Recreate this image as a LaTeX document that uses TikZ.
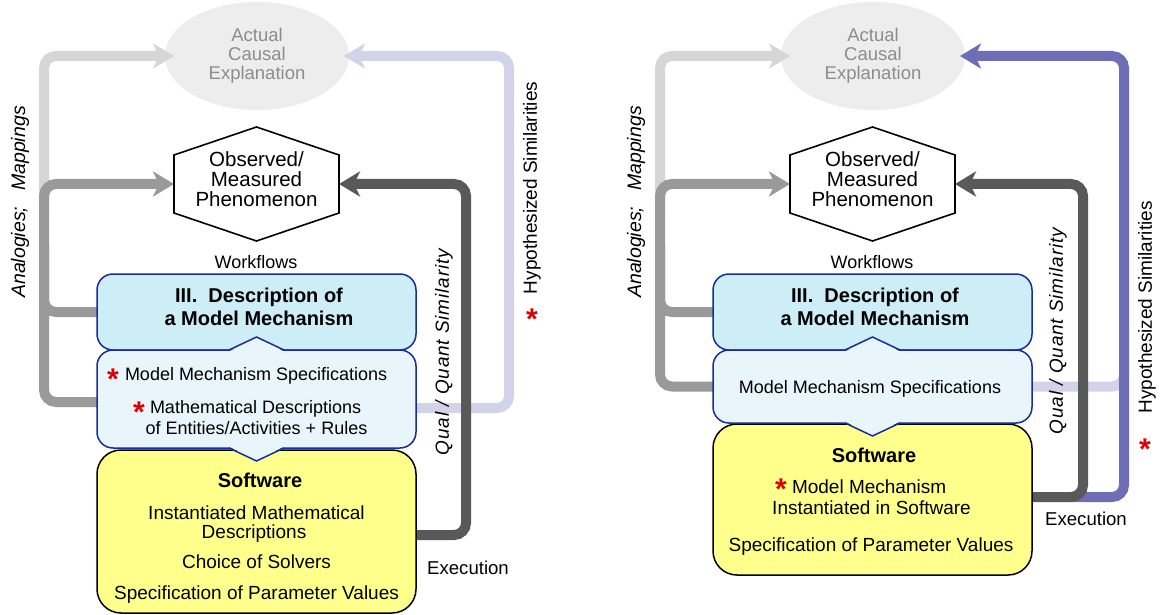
\documentclass[tikz,border=0pt]{standalone}
\usepackage{fontspec}
\setmainfont{Liberation Sans}
\usetikzlibrary{arrows.meta,calc,shapes.geometric}
\pgfdeclarelayer{back}
\pgfdeclarelayer{conns}
\pgfsetlayers{back,conns,main}
\definecolor{lgrey}{HTML}{D6D6D6}
\definecolor{mgrey}{HTML}{9A9A9A}
\definecolor{dgrey}{HTML}{595959}
\definecolor{lav}{HTML}{D2D2E8}
\definecolor{purp}{HTML}{6E6EB6}
\definecolor{bord}{HTML}{1A2D9C}
\definecolor{descf}{HTML}{CDEEF7}
\definecolor{specf}{HTML}{E8F6FB}
\definecolor{softf}{HTML}{FFFF8C}
\definecolor{aceg}{HTML}{EDEDED}
\definecolor{acet}{HTML}{8C8C8C}
\definecolor{starred}{HTML}{E00000}
\pgfdeclareradialshading{blurell}{\pgfpoint{0bp}{0bp}}{color(0bp)=(aceg); color(34bp)=(aceg); color(50bp)=(white); color(100bp)=(white)}
\newcommand\fz[1]{\fontsize{#1}{#1}\selectfont}
\tikzset{
  conn/.style={line width=10pt, rounded corners=12pt},
  tipA/.style={-{Stealth[length=21pt,width=25pt,inset=6pt]}},
  tb/.style={anchor=base, inner sep=0pt, outer sep=0pt},
  rot/.style={rotate=90, inner sep=0pt, outer sep=0pt},
  acebox/.style={ellipse, minimum width=184pt, minimum height=108pt, inner sep=0pt, outer sep=0pt, shade, shading=blurell},
  hexn/.style={minimum width=165pt, minimum height=114pt, inner sep=0pt, outer sep=0pt},
  descbox/.style={draw=bord, fill=descf, line width=1.5pt, rounded corners=16pt, minimum width=319pt, minimum height=76pt, inner sep=0pt, outer sep=0pt},
  specbox/.style={draw=bord, fill=specf, line width=1.5pt, rounded corners=16pt, minimum width=319pt, inner sep=0pt, outer sep=0pt},
  softbox/.style={draw=black, fill=softf, line width=1.5pt, rounded corners=24pt, minimum width=319pt, inner sep=0pt, outer sep=0pt},
  chev/.style={draw=bord, line width=1.5pt},
  acetxt/.style={tb, font=\fz{18.5}, text=acet},
  hextxt/.style={tb, font=\fz{20.5}},
  boldtxt/.style={tb, font=\bfseries\fz{20}},
  spectxt/.style={tb, font=\fz{18}},
  softtxt/.style={tb, font=\fz{19}},
  redstar/.style={tb, font=\bfseries\fz{30}, text=starred},
}
\begin{document}
\begin{tikzpicture}[x=1pt,y=-1pt]
\useasboundingbox (0,0) rectangle (1163,615);
\begin{pgfonlayer}{back}
\fill[white] (0,0) rectangle (1163,615);
\end{pgfonlayer}

% ================= LEFT PANEL =================
\begin{pgfonlayer}{back}
\node[acebox] (aceL) at (257,56) {};
\end{pgfonlayer}
\node[hexn] (hexL) at (256.5,184) {};
\node[descbox] (descL) at (256.5,312) {};
\node[softbox, minimum height=163pt] (softL) at (256.5,531.5) {};
\node[specbox, minimum height=98pt] (specL) at (256.5,399) {};
\fill[specf] ($(specL.north)+(-27.5,1.5)$) -- ($(specL.north)+(0,-13)$) -- ($(specL.north)+(27.5,1.5)$) -- cycle;
\draw[chev] ($(specL.north)+(-27.5,0)$) -- ($(specL.north)+(0,-13)$) -- ($(specL.north)+(27.5,0)$);
\fill[specf] ($(specL.south)+(-27.5,-1.5)$) -- ($(specL.south)+(0,13)$) -- ($(specL.south)+(27.5,-1.5)$) -- cycle;
\draw[chev] ($(specL.south)+(-27.5,0)$) -- ($(specL.south)+(0,13)$) -- ($(specL.south)+(27.5,0)$);
\draw[line width=1.6pt] (hexL.north) -- ($(hexL.north east)+(0,28)$) -- ($(hexL.south east)+(0,-28)$) -- (hexL.south) -- ($(hexL.south west)+(0,-28)$) -- ($(hexL.north west)+(0,28)$) -- cycle;
\coordinate (anaL) at (44,215);
\coordinate (hypL) at (509,56);

\begin{pgfonlayer}{conns}
\draw[conn, lgrey, tipA] (anaL) |- ($(aceL.west)+(9,0)$);
\draw[conn, lav, tipA] ([yshift=-9pt]specL.east) -| (hypL) -- ($(aceL.east)+(-5,0)$);
\draw[conn, mgrey] (descL.west) -| ($(hexL.west)+(-130,60)$);
\draw[conn, mgrey, tipA] ([yshift=-3pt]specL.west) -| ($(hexL.west)+(-130,0)$) -- (hexL.west);
\draw[conn, dgrey, tipA] ([yshift=-3.5pt]softL.east) -| ($(hexL.east)+(127,0)$) -- (hexL.east);
\end{pgfonlayer}

\node[acetxt] (aceL1) at (257,41.5) {Actual};
\node[acetxt] (aceL2) at (257,60.5) {Causal};
\node[acetxt] (aceL3) at (257,79.5) {Explanation};
\node[hextxt] (hexL1) at (256.5,167) {Observed/};
\node[hextxt] (hexL2) at (256.5,187) {Measured};
\node[hextxt] (hexL3) at (256.5,207) {Phenomenon};
\node[tb, font=\fz{18}] (wfL) at (256,268.5) {Workflows};
\node[boldtxt] (descL1) at (259,302) {III.\ \ Description of};
\node[boldtxt] (descL3) at (259,325) {a Model Mechanism};
\node[redstar] (stL1) at (113,389) {*};
\node[spectxt, anchor=base west] (specL1) at (125,380.3) {Model Mechanism Specifications};
\node[redstar] (stL2) at (139,422) {*};
\node[spectxt, anchor=base west] (specL2) at (150,413.3) {Mathematical Descriptions};
\node[spectxt] (specL3) at (256.5,434.3) {of Entities/Activities + Rules};
\node[boldtxt] (softL1) at (260,487) {Software};
\node[softtxt] (softL2) at (256.5,519.6) {Instantiated Mathematical};
\node[softtxt] (softL3) at (254,538.6) {Descriptions};
\node[softtxt] (softL4) at (256.5,568.6) {Choice of Solvers};
\node[softtxt] (softL5) at (256.5,599.6) {Specification of Parameter Values};
\node[tb, font=\fz{18.6}] (exL) at (468,574.5) {Execution};
\node[rot, font=\itshape\fz{19.5}] (anL) at (20,202) {Analogies;\hspace{16pt}Mappings};
\node[rot, font=\itshape\fz{19}\addfontfeature{LetterSpace=4.5}] (qqL) at (444,352) {Qual / Quant Similarity};
\node[rot, font=\fz{19}] (hsL) at (532,188) {Hypothesized Similarities};
\node[redstar] (stL3) at (532,329) {*};

% ================= RIGHT PANEL =================
\begin{pgfonlayer}{back}
\node[acebox] (aceR) at (873,56) {};
\end{pgfonlayer}
\node[hexn] (hexR) at (872.5,184) {};
\node[descbox] (descR) at (872.5,312) {};
\node[softbox, minimum height=151pt] (softR) at (872.5,499.5) {};
\node[specbox, minimum height=73pt] (specR) at (872.5,386.5) {};
\fill[specf] ($(specR.north)+(-27.5,1.5)$) -- ($(specR.north)+(0,-13)$) -- ($(specR.north)+(27.5,1.5)$) -- cycle;
\draw[chev] ($(specR.north)+(-27.5,0)$) -- ($(specR.north)+(0,-13)$) -- ($(specR.north)+(27.5,0)$);
\fill[specf] ($(specR.south)+(-27.5,-1.5)$) -- ($(specR.south)+(0,13)$) -- ($(specR.south)+(27.5,-1.5)$) -- cycle;
\draw[chev] ($(specR.south)+(-27.5,0)$) -- ($(specR.south)+(0,13)$) -- ($(specR.south)+(27.5,0)$);
\draw[line width=1.6pt] (hexR.north) -- ($(hexR.north east)+(0,28)$) -- ($(hexR.south east)+(0,-28)$) -- (hexR.south) -- ($(hexR.south west)+(0,-28)$) -- ($(hexR.north west)+(0,28)$) -- cycle;
\coordinate (anaR) at (660,215);
\coordinate (hypR) at (1124,56);
\coordinate (lavR) at (1124,330);
\coordinate (purR) at (1072,497);

\begin{pgfonlayer}{conns}
\draw[conn, lgrey, tipA] (anaR) |- ($(aceR.west)+(9,0)$);
\draw[conn, lav] (specR.east) -| (lavR);
\draw[conn, purp, tipA] (purR) -| (hypR) -- ($(aceR.east)+(-5,0)$);
\draw[conn, mgrey] (descR.west) -| ($(hexR.west)+(-130,60)$);
\draw[conn, mgrey, tipA] (specR.west) -| ($(hexR.west)+(-130,0)$) -- (hexR.west);
\draw[conn, dgrey, tipA] ([yshift=2.5pt]softR.east) -| ($(hexR.east)+(128,0)$) -- (hexR.east);
\end{pgfonlayer}

\node[acetxt] (aceR1) at (873,41.5) {Actual};
\node[acetxt] (aceR2) at (873,60.5) {Causal};
\node[acetxt] (aceR3) at (873,79.5) {Explanation};
\node[hextxt] (hexR1) at (872.5,167) {Observed/};
\node[hextxt] (hexR2) at (872.5,187) {Measured};
\node[hextxt] (hexR3) at (872.5,207) {Phenomenon};
\node[tb, font=\fz{18}] (wfR) at (872,268.5) {Workflows};
\node[boldtxt] (descR1) at (875,302) {III.\ \ Description of};
\node[boldtxt] (descR3) at (875,325) {a Model Mechanism};
\node[spectxt] (specR1) at (870,393.3) {Model Mechanism Specifications};
\node[boldtxt] (softR1) at (874,462) {Software};
\node[redstar] (stR1) at (781,499) {*};
\node[softtxt, anchor=base west] (softR2) at (792,493.6) {Model Mechanism};
\node[softtxt] (softR3) at (871.5,514.6) {Instantiated in Software};
\node[softtxt] (softR4) at (871,551.6) {Specification of Parameter Values};
\node[tb, font=\fz{18.6}] (exR) at (1086,525.5) {Execution};
\node[rot, font=\itshape\fz{19.5}] (anR) at (636,202) {Analogies;\hspace{16pt}Mappings};
\node[rot, font=\itshape\fz{19}\addfontfeature{LetterSpace=4.5}] (qqR) at (1058,331) {Qual / Quant Similarity};
\node[rot, font=\fz{19}] (hsR) at (1147,307.5) {Hypothesized Similarities};
\node[redstar] (stR3) at (1145,459) {*};
\end{tikzpicture}
\end{document}
